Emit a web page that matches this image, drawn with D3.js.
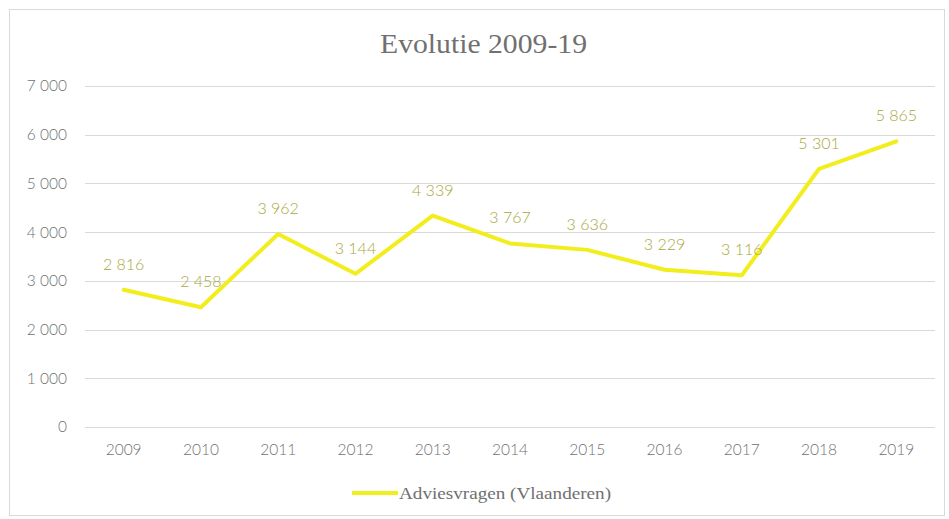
<!DOCTYPE html>
<html><head><meta charset="utf-8">
<script src="https://cdn.jsdelivr.net/npm/d3@7"></script>
<style>
body{margin:0;background:#fff;}
svg{display:block;}
</style></head>
<body><svg id="c" width="949" height="519"></svg>
<script>
const years = ["2009","2010","2011","2012","2013","2014","2015","2016","2017","2018","2019"];
const values = [2816,2458,3962,3144,4339,3767,3636,3229,3116,5301,5865];
const yTicks = [0,1000,2000,3000,4000,5000,6000,7000];
const title = "Evolutie 2009-19";
const seriesName = "Adviesvragen (Vlaanderen)";

const svg = d3.select("#c");
const fmt = v => d3.format(",")(v).replace(/,/g, " ");
const sans = "Lato, 'Open Sans', sans-serif";
const serif = "'Liberation Serif', 'DejaVu Serif', serif";

svg.append("rect").attr("x",9.5).attr("y",9.5).attr("width",935).attr("height",506)
  .attr("fill","#fff").attr("stroke","#d9d9d9").attr("stroke-width",1);

const x = d3.scaleBand().domain(years).range([85,935]);
const y = d3.scaleLinear().domain([0,7000]).range([427,86]);

svg.append("text").attr("x",380).attr("y",53)
  .attr("font-family",serif).attr("font-size",28)
  .attr("textLength",207).attr("lengthAdjust","spacingAndGlyphs")
  .attr("fill","#707070").text(title);

// gridlines
svg.append("g").selectAll("line").data(yTicks).join("line")
  .attr("x1",85).attr("x2",935).attr("y1",d=>Math.round(y(d))+0.5).attr("y2",d=>Math.round(y(d))+0.5)
  .attr("stroke","#d9d9d9").attr("stroke-width",1);

const yAxis = svg.append("g").attr("transform","translate(85,0)")
  .call(d3.axisLeft(y).tickValues(yTicks).tickFormat(fmt).tickSize(0).tickPadding(18));
yAxis.select(".domain").remove();
yAxis.selectAll("text").attr("font-family",sans).attr("font-size",15.5).attr("font-weight",300).attr("fill","#707070");

const xAxis = svg.append("g").attr("transform","translate(0,427)")
  .call(d3.axisBottom(x).tickSize(0).tickPadding(17));
xAxis.select(".domain").remove();
xAxis.selectAll("text").attr("font-family",sans).attr("font-size",15.5).attr("font-weight",300).attr("fill","#707070");

const cx = d => x(d) + x.bandwidth()/2;
const line = d3.line().x((d,i)=>cx(years[i])).y(d=>y(d));
svg.append("path").datum(values).attr("d",line).attr("fill","none")
  .attr("stroke","#f2ee1e").attr("stroke-width",4).attr("stroke-linejoin","round").attr("stroke-linecap","round");

svg.append("g").selectAll("text").data(values).join("text")
  .attr("x",(d,i)=>cx(years[i])).attr("y",d=>y(d)-20)
  .attr("text-anchor","middle").attr("font-family",sans).attr("font-size",16).attr("font-weight",300)
  .attr("fill","#a8a83a").text(fmt);

// legend
const lg = svg.append("g");
lg.append("line").attr("x1",352).attr("x2",398).attr("y1",493).attr("y2",493)
  .attr("stroke","#f2ee1e").attr("stroke-width",4);
lg.append("text").attr("x",399).attr("y",499).attr("font-family",serif)
  .attr("font-size",17).attr("textLength",212).attr("lengthAdjust","spacingAndGlyphs")
  .attr("fill","#707070").text(seriesName);
</script></body></html>
